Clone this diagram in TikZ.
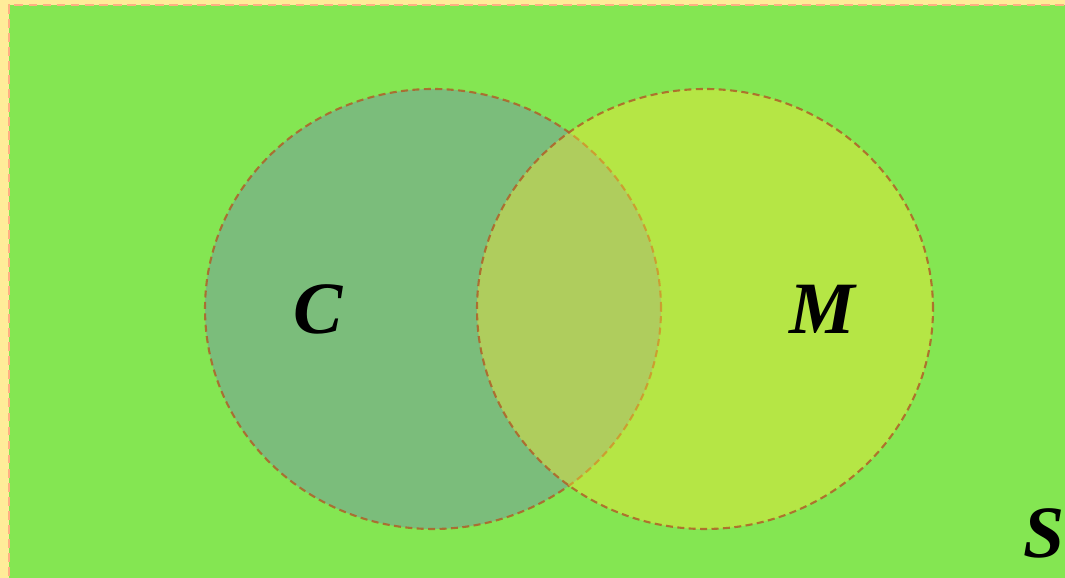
\documentclass[tikz,border=0pt]{standalone}
\usepackage{fontspec}
\newfontfamily\setfont{Liberation Serif}
\definecolor{bgyellow}{RGB}{255,236,153}
\definecolor{bggreen}{RGB}{132,230,82}
\definecolor{setblue}{RGB}{110,128,185}
\definecolor{setyellow}{RGB}{255,230,50}
\definecolor{rimbrown}{RGB}{176,96,40}
\definecolor{rimsalmon}{RGB}{255,175,130}
\tikzset{
  setshape/.style={ellipse, minimum width=9.12cm, minimum height=8.8cm, inner sep=0pt,
    draw=rimbrown, draw opacity=.85, line width=1.2pt, dash pattern=on 4pt off 2.5pt},
  setname/.style={font=\setfont\fontsize{42}{50}\selectfont\bfseries\itshape}
}
\usetikzlibrary{shapes.geometric}
\begin{document}
\begin{tikzpicture}
\useasboundingbox (0,0) rectangle (21.3,-11.56);
\fill[bgyellow] (0,0) rectangle (21.3,-11.56);
\fill[bggreen] (.18,-.1) rectangle (21.6,-11.8);
\draw[rimsalmon,line width=1.6pt,dash pattern=on 5pt off 3pt] (.18,-11.8) -- (.18,-.1) -- (21.6,-.1);
\node[setshape, fill=setblue, fill opacity=.4] (setC) at (8.66,-6.18) {};
\node[setshape, fill=setyellow, fill opacity=.4] (setM) at (14.1,-6.18) {};
\node[setname] (labC) at (6.36,-6.18) {C};
\node[setname] (labM) at (16.44,-6.18) {M};
\node[setname] (labS) at (20.88,-10.66) {S};
\end{tikzpicture}
\end{document}
